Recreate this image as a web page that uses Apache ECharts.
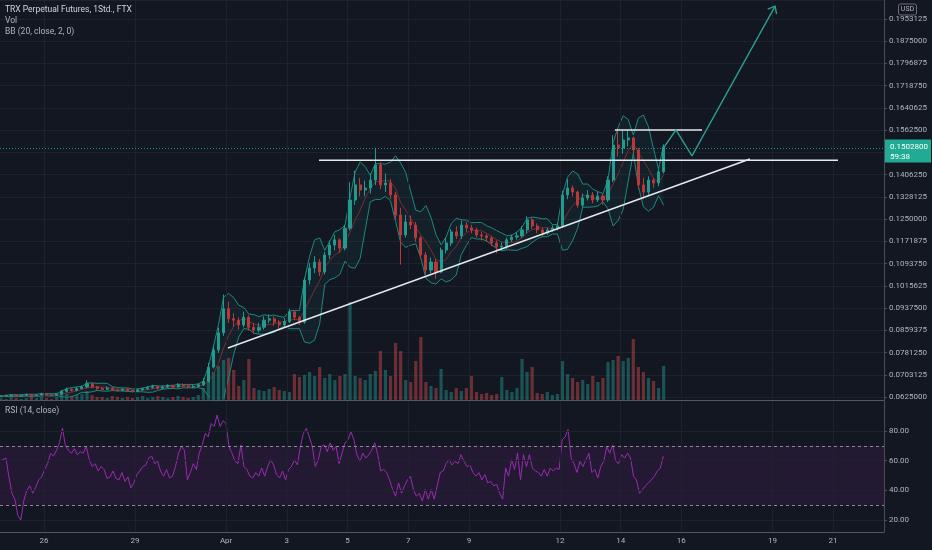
<!DOCTYPE html>
<html><head><meta charset="utf-8">
<script src="https://cdn.jsdelivr.net/npm/echarts@6/dist/echarts.min.js"></script>
<style>html,body{margin:0;padding:0;background:#131722;}#c{width:932px;height:550px;}</style>
</head><body><div id="c"></div><script>
// time unit: days since 2021-03-01 00:00 (Mar 26 = 25, Apr 1 = 31)
const viewStart = 23.55, viewEnd = 52.677;
const candleStart = 23.5 + 1/12;   // centre of first 4h candle
const candleStep = 1/6;            // 4 hours
const firstOpen = 0.0627;
const closes = [
 .0628,.0630,.0632,.0629,.0631,.0634,.0630,.0632,.0636,.0633,
 .0631,.0635,.0645,.0652,.0648,.0655,.0660,.0672,.0660,.0655,
 .0652,.0656,.0650,.0648,.0652,.0647,.0645,.0650,.0654,.0658,
 .0662,.0656,.0660,.0664,.0660,.0668,.0664,.0660,.0662,.0668,
 .0680,.0730,.0790,.0850,.0935,.0900,.0895,.0878,.0905,.0870,
 .0860,.0870,.0895,.0900,.0888,.0878,.0890,.0924,.0905,.0888,
 .1036,.1078,.1099,.1064,.1124,.1159,.1177,.1148,.1218,.1317,
 .1370,.1352,.1359,.1387,.1440,.1370,.1377,.1335,.1264,.1194,
 .1240,.1229,.1184,.1124,.1071,.1099,.1064,.1141,.1166,.1205,
 .1191,.1229,.1219,.1212,.1194,.1191,.1184,.1166,.1152,.1155,
 .1177,.1187,.1191,.1212,.1247,.1226,.1212,.1201,.1212,.1219,
 .1226,.1335,.1359,.1345,.1299,.1324,.1335,.1317,.1331,.1317,
 .1387,.1510,.1500,.1528,.1535,.1493,.1370,.1345,.1387,.1377,
 .1416,.1503];
const highs = [
 .0631,.0633,.0635,.0634,.0634,.0637,.0636,.0635,.0640,.0639,
 .0636,.0638,.0650,.0658,.0656,.0660,.0666,.0684,.0675,.0664,
 .0660,.0662,.0660,.0655,.0657,.0656,.0651,.0655,.0659,.0663,
 .0668,.0665,.0666,.0670,.0668,.0674,.0672,.0668,.0667,.0673,
 .0692,.0745,.0805,.0868,.0985,.0960,.0920,.0905,.0925,.0912,
 .0885,.0886,.0908,.0915,.0908,.0896,.0902,.0935,.0930,.0910,
 .1045,.1095,.1120,.1110,.1135,.1175,.1195,.1182,.1230,.1380,
 .1420,.1395,.1385,.1410,.1500,.1450,.1410,.1390,.1345,.1290,
 .1265,.1262,.1240,.1190,.1135,.1115,.1110,.1150,.1185,.1215,
 .1225,.1245,.1240,.1230,.1220,.1205,.1198,.1190,.1175,.1168,
 .1185,.1195,.1205,.1225,.1260,.1255,.1235,.1220,.1220,.1228,
 .1238,.1350,.1390,.1368,.1350,.1340,.1352,.1345,.1345,.1340,
 .1400,.1545,.1560,.1560,.1563,.1540,.1500,.1395,.1400,.1395,
 .1425,.1510];
const lows = [
 .0625,.0626,.0628,.0626,.0627,.0629,.0627,.0628,.0630,.0630,
 .0628,.0629,.0633,.0641,.0644,.0645,.0652,.0656,.0656,.0650,
 .0648,.0649,.0646,.0644,.0645,.0643,.0641,.0642,.0647,.0650,
 .0655,.0652,.0653,.0656,.0655,.0658,.0659,.0655,.0656,.0659,
 .0664,.0676,.0725,.0780,.0840,.0885,.0872,.0862,.0870,.0858,
 .0848,.0852,.0862,.0884,.0876,.0865,.0870,.0885,.0895,.0878,
 .0882,.1020,.1060,.1050,.1055,.1110,.1140,.1132,.1140,.1210,
 .1300,.1330,.1330,.1340,.1370,.1355,.1345,.1320,.1250,.1090,
 .1185,.1215,.1170,.1110,.1055,.1060,.1040,.1060,.1130,.1155,
 .1180,.1180,.1205,.1200,.1185,.1175,.1170,.1155,.1130,.1140,
 .1145,.1170,.1178,.1185,.1200,.1215,.1200,.1190,.1195,.1205,
 .1210,.1220,.1320,.1330,.1290,.1290,.1315,.1305,.1310,.1300,
 .1310,.1380,.1470,.1480,.1505,.1480,.1355,.1320,.1335,.1360,
 .1365,.1410];
const volumes = [
 2,1,3,2,1,2,4,2,3,2,
 1,3,8,6,4,5,6,9,5,3,
 3,2,4,3,2,3,2,3,4,2,
 3,4,3,2,3,4,3,2,3,5,
 12,22,28,34,40,42,30,14,20,41,
 12,10,9,11,13,10,9,8,26,23,
 25,28,24,33,22,26,20,24,26,98,
 24,22,20,26,29,49,30,24,57,49,
 20,18,39,63,18,14,12,31,10,8,
 12,9,12,24,8,6,7,5,6,23,
 10,8,12,41,28,33,7,6,8,5,
 6,39,26,22,18,20,16,24,18,22,
 38,40,44,39,42,61,33,28,22,19,
 12,34];
const rsiStart = 23.55, rsiStep = 0.098;
const rsiValues = [
 60,60.5,61.7,49,38,34,23,20,33,40,
 43,38,42,47,49,54,58,65,63,67,
 72,82,70,67,65,68,64,66,65,69.5,
 60.6,56,58,53,56,54,48,49,53,48,
 47,52,46,49,41.6,45,50.6,53,56,57,
 61.7,63,58,59.5,53,49.5,54,48.3,49.5,56,
 65,69.5,67,47,52,58,54,65,70.6,78.4,
 76,85,83,90.7,83,87,85,69.5,65,59.5,
 58,70.6,56,54,49.5,48.3,52,49.5,55,49.5,
 56,60.6,57,50.6,48.3,53,47,54,56,60.6,
 57,69.5,78.4,81.8,76,69.5,56,60.6,69.5,70.6,
 66,72,67,69.5,58,65,72,74,79.5,74,
 64,59.5,65,61.7,64,67,72,64,53,54,
 52,47,40.5,36,45,38,43,47,49.5,40.5,
 36,38,32.7,40.5,34,40.5,34,43,52,53,
 58,60.6,57,59.5,58,64,59.5,56,57,52,
 49.5,52,47,50.6,45,46,43,44,38,34,
 55,49.5,60.6,54,65,47,64,56,64,55,
 53,52,49.5,54,49.5,55,53,55,54,74,
 76,81,62,58,52,59.5,56,60.6,65,52,
 54,48.3,56,59.5,69.5,65,70.6,59.5,58,64,
 61.7,65,61.7,49.5,47,38,40.5,43,45,47,
 49.5,53,55,63];
const dateTicks = [25,28,31,33,35,37,39,42,44,46,49,51];
const dateLabels = ['26','29','Apr','3','5','7','9','12','14','16','19','21'];
const priceMin = 0.0625, priceMax = 0.20196, priceStep = 0.0078125;
const rsiLevels = [20,40,60,80];
const rsiBand = [30,70];
const lastPrice = 0.15028, lastPriceText = '0.1502800', countdown = '59:38';
const bbPeriod = 5, bbMult = 2;
// drawings: [day, price]
const trendRise = [[31.06,0.0797],[48.26,0.1461]];
const resistance = [[34.06,0.14565],[51.16,0.14565]];
const topLevel = [[43.81,0.1563],[46.68,0.1563]];
const projection = [[45.43,0.15028],[45.82,0.1563],[46.35,0.1472],[49.09,0.1998]];

const BG='#131722', GRID='#1e222d', AXIS='#4a4e59', SEP='#555863', TXT='#b2b5be';
const UP='#229a8d', DOWN='#b8393a', BAND='#1d8a7e', BASIS='#7a2d30', WHITE='#e6e8ee', TEAL='#2a9d90';

const xs = closes.map((c,i)=>candleStart + i*candleStep);
const candles = closes.map((c,i)=>[xs[i], i? closes[i-1]:firstOpen, c, lows[i], highs[i]]);
const vol = volumes.map((v,i)=>{
  const up = candles[i][2] >= candles[i][1];
  return {value:[xs[i], v], itemStyle:{color: up?'rgba(38,166,154,0.42)':'rgba(239,83,80,0.40)'}};
});
const bbUpper=[], bbLower=[], bbBasis=[];
closes.forEach((c,i)=>{
  const w = closes.slice(Math.max(0,i-bbPeriod+1), i+1);
  const m = w.reduce((a,b)=>a+b,0)/w.length;
  const sd = Math.sqrt(w.reduce((a,b)=>a+(b-m)*(b-m),0)/w.length);
  bbBasis.push([xs[i], m]); bbUpper.push([xs[i], m+bbMult*sd]); bbLower.push([xs[i], m-bbMult*sd]);
});
const rsi = rsiValues.map((v,k)=>[rsiStart + k*rsiStep, v]);

const chart = echarts.init(document.getElementById('c'), null, {width:932, height:550});
const baseX = {type:'value', min:viewStart, max:viewEnd};
chart.setOption({
  backgroundColor: BG, animation:false,
  textStyle:{fontFamily:'Roboto'},
  grid:[
    {left:0,right:48,top:0,height:397,outerBoundsMode:'none'},
    {left:0,right:48,top:300,height:100,outerBoundsMode:'none'},
    {left:0,right:48,top:401.3,height:130.7,outerBoundsMode:'none'}
  ],
  xAxis:[
    Object.assign({gridIndex:0, show:false}, baseX),
    Object.assign({gridIndex:1, axisLine:{show:true,onZero:false,lineStyle:{color:SEP}}, axisTick:{show:false}, axisLabel:{show:false}, splitLine:{show:false}}, baseX),
    Object.assign({gridIndex:2, axisLine:{show:true,onZero:false,lineStyle:{color:SEP}}, axisTick:{show:false}, splitLine:{show:false},
      axisLabel:{customValues:dateTicks, color:TXT, fontSize:8, margin:5,
        formatter:v=>{const k=dateTicks.indexOf(v); return k<0?'':dateLabels[k];}}}, baseX)
  ],
  yAxis:[
    {gridIndex:0, type:'value', position:'right', min:priceMin, max:priceMax, interval:priceStep,
      axisLine:{show:true,onZero:false,lineStyle:{color:AXIS}}, axisTick:{show:true,length:3,lineStyle:{color:AXIS}},
      splitLine:{show:true,lineStyle:{color:GRID}}, splitArea:{show:false},
      axisLabel:{color:TXT,fontSize:8,margin:5,showMaxLabel:false,formatter:v=>v.toFixed(7)}},
    {gridIndex:1, type:'value', position:'right', min:0, max:100,
      axisLine:{show:true,onZero:false,lineStyle:{color:AXIS}}, axisTick:{show:false}, axisLabel:{show:false}, splitLine:{show:false}, splitArea:{show:false}},
    {gridIndex:2, type:'value', position:'right', min:11.87, max:100,
      axisLine:{show:true,onZero:false,lineStyle:{color:AXIS}},
      axisTick:{show:true,length:3,customValues:rsiLevels,lineStyle:{color:AXIS}}, splitLine:{show:false}, splitArea:{show:false},
      axisLabel:{customValues:rsiLevels,color:TXT,fontSize:8,margin:5,formatter:v=>v.toFixed(2)}}
  ],
  series:[
    {type:'line', xAxisIndex:0, yAxisIndex:0, data:[], z:0, silent:true,
      markLine:{silent:true, symbol:['none','none'], label:{show:false}, animation:false,
        lineStyle:{color:GRID,type:'solid',width:1},
        data:dateTicks.map(d=>({xAxis:d}))}},
    {type:'custom', xAxisIndex:0, yAxisIndex:0, data:[bbBasis[0]], silent:true, z:1,
      renderItem:(params, api)=>({type:'polygon',
        shape:{points: bbUpper.map(p=>api.coord(p)).concat(bbLower.slice().reverse().map(p=>api.coord(p)))},
        style:{fill:'rgba(38,166,154,0.07)'}})},
    {type:'line', xAxisIndex:0, yAxisIndex:0, data:bbLower, symbol:'none', silent:true,
      lineStyle:{color:BAND,width:1}, z:1},
    {type:'line', xAxisIndex:0, yAxisIndex:0, data:bbUpper, symbol:'none', silent:true,
      lineStyle:{color:BAND,width:1}, z:1},
    {type:'line', xAxisIndex:0, yAxisIndex:0, data:bbBasis, symbol:'none', silent:true,
      lineStyle:{color:BASIS,width:1}, z:1},
    {type:'bar', xAxisIndex:1, yAxisIndex:1, data:vol, barWidth:3.2, silent:true, z:1},
    {type:'candlestick', xAxisIndex:0, yAxisIndex:0, data:candles, encode:{x:0,y:[1,2,3,4]},
      barWidth:2.6, silent:true, z:3,
      itemStyle:{color:UP,color0:DOWN,borderColor:UP,borderColor0:DOWN,borderWidth:1},
      markLine:{silent:true, symbol:['none','none'], label:{show:false}, animation:false,
        data:[{yAxis:lastPrice, lineStyle:{color:'#22ab94',type:[1,2],width:1,opacity:0.8}}]}},
    {type:'line', xAxisIndex:0, yAxisIndex:0, data:trendRise, symbol:'none', clip:false, silent:true,
      lineStyle:{color:WHITE,width:1.5}, z:5},
    {type:'line', xAxisIndex:0, yAxisIndex:0, data:resistance, symbol:'none', clip:false, silent:true,
      lineStyle:{color:WHITE,width:1.5}, z:5},
    {type:'line', xAxisIndex:0, yAxisIndex:0, data:topLevel, symbol:'none', clip:false, silent:true,
      lineStyle:{color:WHITE,width:1.5}, z:5},
    {type:'line', xAxisIndex:0, yAxisIndex:0, data:projection, symbol:'none', clip:false, silent:true,
      lineStyle:{color:TEAL,width:1.4}, z:5},
    {type:'line', xAxisIndex:2, yAxisIndex:2, data:rsi, symbol:'none', silent:true,
      lineStyle:{color:'#9a2bb0',width:1}, z:3,
      markArea:{silent:true, itemStyle:{color:'rgba(156,39,176,0.12)'}, data:[[{yAxis:rsiBand[1]},{yAxis:rsiBand[0]}]]},
      markLine:{silent:true, symbol:['none','none'], label:{show:false}, animation:false,
        data:[].concat(
          dateTicks.map(d=>({xAxis:d, lineStyle:{color:GRID,type:'solid',width:1}})),
          rsiLevels.map(v=>({yAxis:v, lineStyle:{color:GRID,type:'solid',width:1}})),
          rsiBand.map(v=>({yAxis:v, lineStyle:{color:'#8a8d96',type:[3,3],width:1}}))
        )}}
  ]
});

// overlay graphics placed from data via the axes
const right = chart.getWidth() - 48;
const py = chart.convertToPixel({yAxisIndex:0}, lastPrice);
const tip = chart.convertToPixel({xAxisIndex:0,yAxisIndex:0}, projection[projection.length-1]);
const prev = chart.convertToPixel({xAxisIndex:0,yAxisIndex:0}, projection[projection.length-2]);
const dx = tip[0]-prev[0], dy = tip[1]-prev[1], len = Math.hypot(dx,dy);
const ux = dx/len, uy = dy/len, L = 8, a = Math.PI*0.22;
const wing = s => [tip[0] - L*(ux*Math.cos(a) - s*uy*Math.sin(a)), tip[1] - L*(uy*Math.cos(a) + s*ux*Math.sin(a))];
chart.setOption({graphic:[
  {type:'text', left:5, top:5, z:100, style:{text:'TRX Perpetual Futures, 1Std., FTX', fill:'#d1d4dc', font:'8.5px Roboto'}},
  {type:'text', left:5, top:16, z:100, style:{text:'Vol', fill:TXT, font:'8.5px Roboto'}},
  {type:'text', left:5, top:27, z:100, style:{text:'BB (20, close, 2, 0)', fill:TXT, font:'8.5px Roboto'}},
  {type:'text', left:5, top:406, z:100, style:{text:'RSI (14, close)', fill:TXT, font:'8.5px Roboto'}},
  {type:'rect', z:100, shape:{x:right+1, y:py-7.5, width:46, height:23}, style:{fill:'#22ab94'}},
  {type:'text', z:101, x:right+6, y:py, style:{text:lastPriceText, fill:'#ffffff', font:'8px Roboto', verticalAlign:'middle'}},
  {type:'text', z:101, x:right+6, y:py+9.5, style:{text:countdown, fill:'#ffffff', font:'8px Roboto', verticalAlign:'middle'}},
  {type:'rect', z:100, shape:{x:right+14.5, y:4, width:18, height:11, r:2}, style:{fill:'none', stroke:'#6a6d78', lineWidth:1}},
  {type:'text', z:101, x:right+23.5, y:9.5, style:{text:'USD', fill:TXT, font:'7px Roboto', align:'center', verticalAlign:'middle'}},
  {type:'polyline', z:101, shape:{points:[wing(1), tip, wing(-1)]}, style:{stroke:TEAL, lineWidth:1.4, fill:'none'}}
]});
</script></body></html>
